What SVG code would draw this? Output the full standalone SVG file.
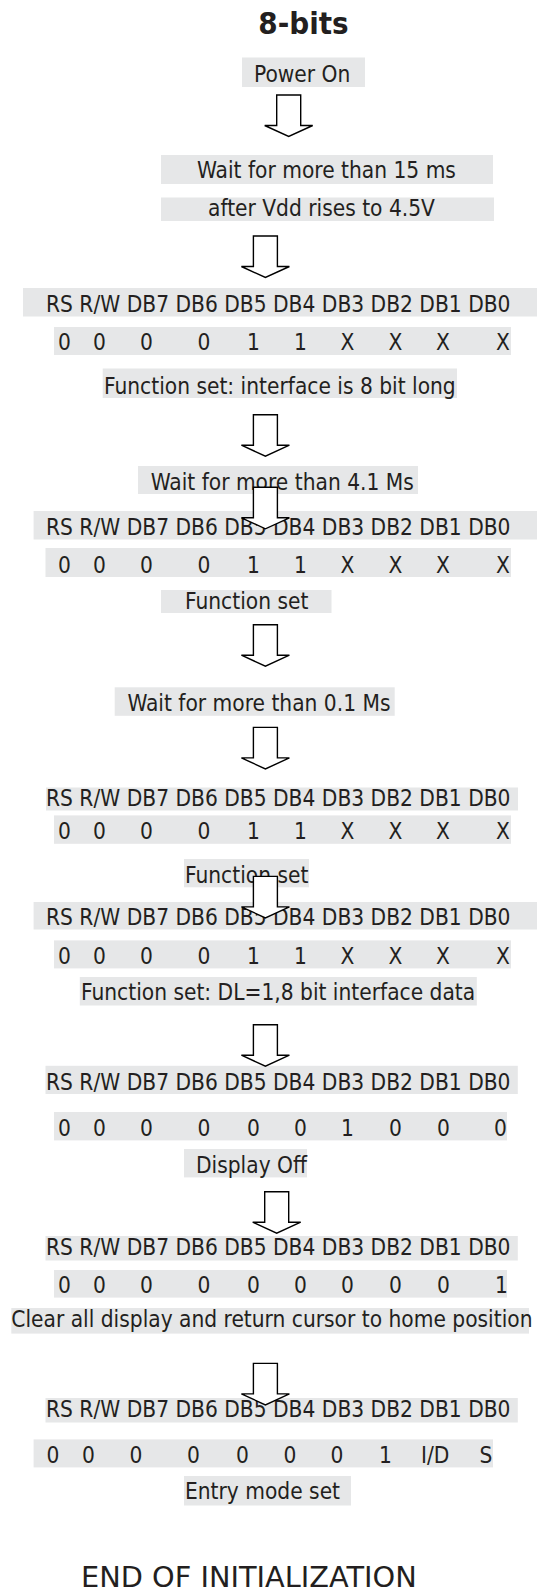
<svg xmlns="http://www.w3.org/2000/svg" width="537" height="1593" viewBox="0 0 537 1593">
<style>
.bg{fill:#e6e7e8}
.t{font-family:"DejaVu Sans Condensed","DejaVu Sans",sans-serif;font-stretch:condensed;font-size:22.5px;fill:#231f20}
.title{font-family:"DejaVu Sans Condensed","DejaVu Sans",sans-serif;font-stretch:condensed;font-size:31px;font-weight:bold;fill:#231f20}
.end{font-family:"DejaVu Sans",sans-serif;font-size:28.8px;fill:#231f20}
.arrow{fill:#fff;stroke:#000;stroke-width:1.4;stroke-linejoin:miter}
</style>
<defs>
<path id="arr" d="M-12,0 H12 V30.5 H24 L0,41.5 L-24,30.5 H-12 Z"/>
</defs>
<rect width="537" height="1593" fill="#fff"/>
<g id="title"><text class="title" x="303.5" y="34" text-anchor="middle">8-bits</text></g>
<g id="power-on"><rect class="bg" x="242" y="57.5" width="123" height="29.5"/><text class="t" x="254" y="82">Power On</text></g>
<g id="wait-15ms"><rect class="bg" x="161" y="155" width="332" height="29"/><text class="t" x="197" y="178">Wait for more than 15 ms</text></g>
<g id="after-vdd"><rect class="bg" x="161" y="197.5" width="333" height="23.5"/><text class="t" x="208" y="215.5">after Vdd rises to 4.5V</text></g>
<g id="hdr1"><rect class="bg" x="23" y="288" width="514" height="28.5"/><text class="t" x="46" y="311.5">RS R/W DB7 DB6 DB5 DB4 DB3 DB2 DB1 DB0</text></g>
<g id="val1"><rect class="bg" x="54" y="327" width="457" height="28"/><text class="t" y="350"><tspan x="58">0</tspan><tspan x="93">0</tspan><tspan x="140">0</tspan><tspan x="197.5">0</tspan><tspan x="247">1</tspan><tspan x="294">1</tspan><tspan x="340.5">X</tspan><tspan x="388.5">X</tspan><tspan x="436">X</tspan><tspan x="496">X</tspan></text></g>
<g id="fs1"><rect class="bg" x="102.7" y="368.5" width="354.3" height="29.5"/><text class="t" x="104" y="393.5">Function set: interface is 8 bit long</text></g>
<g id="wait-41ms"><rect class="bg" x="138" y="466" width="280" height="28"/><text class="t" x="150.7" y="489.7">Wait for more than 4.1 Ms</text></g>
<g id="hdr2"><rect class="bg" x="33.6" y="511" width="503.4" height="28.5"/><text class="t" x="46" y="534.6">RS R/W DB7 DB6 DB5 DB4 DB3 DB2 DB1 DB0</text></g>
<g id="val2"><rect class="bg" x="45.5" y="548" width="465.5" height="29"/><text class="t" y="573"><tspan x="58">0</tspan><tspan x="93">0</tspan><tspan x="140">0</tspan><tspan x="197.5">0</tspan><tspan x="247">1</tspan><tspan x="294">1</tspan><tspan x="340.5">X</tspan><tspan x="388.5">X</tspan><tspan x="436">X</tspan><tspan x="496">X</tspan></text></g>
<g id="fs2"><rect class="bg" x="161" y="590" width="170.5" height="23"/><text class="t" x="185" y="608.6">Function set</text></g>
<g id="wait-01ms"><rect class="bg" x="114.7" y="687.3" width="280" height="28.5"/><text class="t" x="127.4" y="711">Wait for more than 0.1 Ms</text></g>
<g id="hdr3"><rect class="bg" x="46" y="787.5" width="472" height="23"/><text class="t" x="46" y="805.5">RS R/W DB7 DB6 DB5 DB4 DB3 DB2 DB1 DB0</text></g>
<g id="val3"><rect class="bg" x="54" y="815.4" width="457" height="28.4"/><text class="t" y="839.4"><tspan x="58">0</tspan><tspan x="93">0</tspan><tspan x="140">0</tspan><tspan x="197.5">0</tspan><tspan x="247">1</tspan><tspan x="294">1</tspan><tspan x="340.5">X</tspan><tspan x="388.5">X</tspan><tspan x="436">X</tspan><tspan x="496">X</tspan></text></g>
<g id="fs3"><rect class="bg" x="184" y="859" width="125" height="28.3"/><text class="t" x="185" y="883">Function set</text></g>
<g id="hdr4"><rect class="bg" x="33.6" y="902" width="503.4" height="27.5"/><text class="t" x="46" y="925">RS R/W DB7 DB6 DB5 DB4 DB3 DB2 DB1 DB0</text></g>
<g id="val4"><rect class="bg" x="54" y="940.4" width="457" height="28"/><text class="t" y="964.4"><tspan x="58">0</tspan><tspan x="93">0</tspan><tspan x="140">0</tspan><tspan x="197.5">0</tspan><tspan x="247">1</tspan><tspan x="294">1</tspan><tspan x="340.5">X</tspan><tspan x="388.5">X</tspan><tspan x="436">X</tspan><tspan x="496">X</tspan></text></g>
<g id="fs4"><rect class="bg" x="79.8" y="977" width="397" height="28.5"/><text class="t" x="81" y="1000">Function set: DL=1,8 bit interface data</text></g>
<g id="hdr5"><rect class="bg" x="45.5" y="1065.8" width="472.3" height="28.2"/><text class="t" x="46" y="1089.7">RS R/W DB7 DB6 DB5 DB4 DB3 DB2 DB1 DB0</text></g>
<g id="val5"><rect class="bg" x="54" y="1112" width="453" height="28.4"/><text class="t" y="1136"><tspan x="58">0</tspan><tspan x="93">0</tspan><tspan x="140">0</tspan><tspan x="197.5">0</tspan><tspan x="247">0</tspan><tspan x="294">0</tspan><tspan x="341">1</tspan><tspan x="389">0</tspan><tspan x="437">0</tspan><tspan x="494">0</tspan></text></g>
<g id="display-off"><rect class="bg" x="184" y="1149" width="123" height="28.4"/><text class="t" x="196" y="1173">Display Off</text></g>
<g id="hdr6"><rect class="bg" x="45.5" y="1236" width="472.3" height="24.5"/><text class="t" x="46" y="1255">RS R/W DB7 DB6 DB5 DB4 DB3 DB2 DB1 DB0</text></g>
<g id="val6"><rect class="bg" x="54" y="1270" width="453" height="27.6"/><text class="t" y="1292.5"><tspan x="58">0</tspan><tspan x="93">0</tspan><tspan x="140">0</tspan><tspan x="197.5">0</tspan><tspan x="247">0</tspan><tspan x="294">0</tspan><tspan x="341">0</tspan><tspan x="389">0</tspan><tspan x="437">0</tspan><tspan x="495">1</tspan></text></g>
<g id="clear"><rect class="bg" x="11.3" y="1308" width="517.7" height="25.6"/><text class="t" x="11.3" y="1326.7">Clear all display and return cursor to home position</text></g>
<g id="hdr7"><rect class="bg" x="45.5" y="1398" width="472.3" height="24.5"/><text class="t" x="46" y="1417">RS R/W DB7 DB6 DB5 DB4 DB3 DB2 DB1 DB0</text></g>
<g id="val7"><rect class="bg" x="33.6" y="1439.4" width="459.4" height="28"/><text class="t" y="1463.4"><tspan x="46.5">0</tspan><tspan x="82">0</tspan><tspan x="129.5">0</tspan><tspan x="187">0</tspan><tspan x="236">0</tspan><tspan x="283.5">0</tspan><tspan x="330.5">0</tspan><tspan x="379">1</tspan><tspan x="421">I/D</tspan><tspan x="479.5">S</tspan></text></g>
<g id="entry-mode"><rect class="bg" x="184" y="1476" width="167" height="29.5"/><text class="t" x="185" y="1499.3">Entry mode set</text></g>
<g id="end"><text class="end" x="81" y="1587">END OF INITIALIZATION</text></g>
<g id="connectors">
<use href="#arr" class="arrow" transform="translate(288.7,95)"/>
<use href="#arr" class="arrow" transform="translate(265.4,236)"/>
<use href="#arr" class="arrow" transform="translate(265.4,414.7)"/>
<use href="#arr" class="arrow" transform="translate(265.4,487.3)"/>
<use href="#arr" class="arrow" transform="translate(265.4,624.7)"/>
<use href="#arr" class="arrow" transform="translate(265.4,727.4)"/>
<use href="#arr" class="arrow" transform="translate(265.4,876.4)"/>
<use href="#arr" class="arrow" transform="translate(265.4,1024.7)"/>
<use href="#arr" class="arrow" transform="translate(276.7,1191.7)"/>
<use href="#arr" class="arrow" transform="translate(265.4,1363.4)"/>
</g>
</svg>
